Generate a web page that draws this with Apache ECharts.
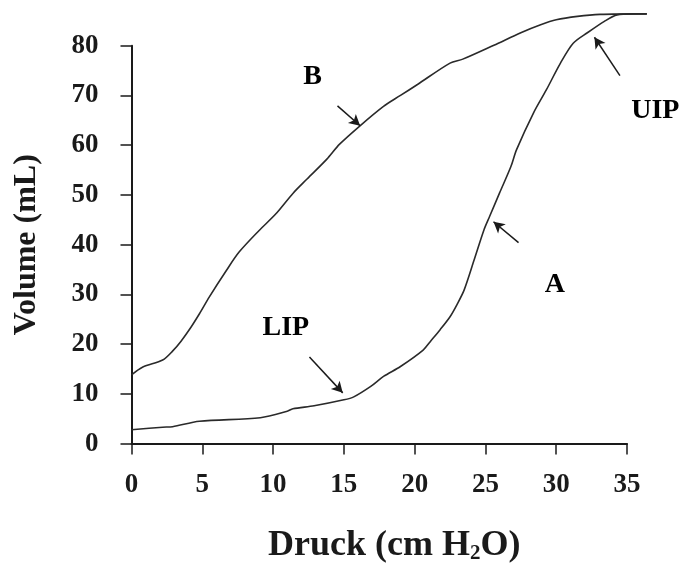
<!DOCTYPE html>
<html>
<head>
<meta charset="utf-8">
<script src="https://cdn.jsdelivr.net/npm/echarts@6/dist/echarts.min.js"></script>
<style>
  html, body { margin: 0; padding: 0; background: #fff; }
  #chart { width: 680px; height: 566px; }
</style>
</head>
<body>
<div id="chart"></div>
<script>
// pressure (cm H2O), volume (mL) pairs
var limbB = [
  [0, 13.8], [0.8, 15.4], [2.2, 16.8], [2.9, 18.6], [3.5, 20.6], [4.2, 23.4],
  [4.8, 26.1], [5.5, 29.5], [6.7, 34.8], [7.6, 38.5], [9.0, 42.8], [10.2, 46.2],
  [11.4, 50.3], [12.4, 53.2], [13.8, 57.2], [14.7, 60.2], [16.1, 63.8], [17.8, 67.8],
  [19.0, 70.0], [20.2, 72.2], [22.5, 76.5], [23.4, 77.3], [25.6, 80.1], [27.5, 82.6],
  [28.9, 84.2], [30.0, 85.2], [31.5, 85.9], [33.1, 86.3], [36.4, 86.4]
];
var limbA = [
  [0, 2.8], [2.2, 3.3], [2.9, 3.4], [4.8, 4.5], [9.1, 5.2], [11.0, 6.5],
  [11.4, 7.0], [12.9, 7.6], [15.0, 8.8], [15.7, 9.4], [16.9, 11.5], [17.8, 13.5],
  [19.0, 15.5], [20.6, 18.8], [21.1, 20.5], [21.8, 22.9], [22.5, 25.5], [23.0, 28.0],
  [23.5, 30.9], [24.2, 36.9], [24.9, 43.0], [25.3, 45.7], [26.0, 50.4], [26.8, 55.7],
  [27.2, 59.1], [28.4, 66.5], [29.3, 71.1], [30.3, 76.5], [31.2, 80.5], [32.2, 82.6],
  [33.4, 84.9], [34.3, 86.2], [35.4, 86.4], [36.4, 86.4]
];
var xTicks = [0, 5, 10, 15, 20, 25, 30, 35];
var yTicks = [0, 10, 20, 30, 40, 50, 60, 70, 80];

// text labels and arrows (tail -> head), in data units
var labelNames = ['B', 'LIP', 'A', 'UIP'];
var labelPos = [[12.8, 73.8], [10.9, 23.2], [29.9, 31.9], [37.0, 67.0]];
var arrows = [
  [[14.55, 67.9], [16.15, 63.9]],
  [[12.57, 17.4], [14.92, 10.2]],
  [[27.34, 40.4], [25.57, 44.6]],
  [[34.5, 74.0], [32.7, 81.7]]
];

var serif = 'Liberation Serif';
var ink = '#1a1a1a';

// the curves run past the drawn axes, so they sit on a second, hidden grid
// with the same scale that reaches a bit further
var gLeft = 131.5, gBottom = 122.4, gTop = 45.7, gRight = 53;
var xMax = 35, yMax = 80, xMaxData = 37, yMaxData = 88;
var pxX = (680 - gLeft - gRight) / xMax;
var pxY = (566 - gTop - gBottom) / yMax;

var chart = echarts.init(document.getElementById('chart'));

var labelData = labelNames.map(function (n, i) {
  return { name: n, value: labelPos[i] };
});
var arrowData = arrows.map(function (a) {
  return [{ coord: a[0] }, { coord: a[1] }];
});

chart.setOption({
  animation: false,
  backgroundColor: '#fff',
  grid: [
    { left: gLeft, right: gRight, top: gTop, bottom: gBottom, outerBoundsMode: 'none' },
    {
      left: gLeft,
      right: 680 - gLeft - xMaxData * pxX,
      top: gTop - (yMaxData - yMax) * pxY,
      bottom: gBottom,
      outerBoundsMode: 'none'
    }
  ],
  xAxis: [
    {
      type: 'value',
      gridIndex: 0,
      min: xTicks[0],
      max: xTicks[xTicks.length - 1],
      interval: 5,
      name: 'Druck (cm H{sub|2}O)',
      nameLocation: 'middle',
      nameGap: 84,
      nameTextStyle: {
        fontFamily: serif, fontWeight: 'bold', fontSize: 36, color: ink,
        padding: [0, 0, 0, 30],
        rich: {
          sub: { fontFamily: serif, fontWeight: 'bold', fontSize: 21, color: ink, verticalAlign: 'bottom' }
        }
      },
      axisLine: { onZero: false, lineStyle: { color: ink, width: 2 } },
      axisTick: { show: true, length: 11, lineStyle: { color: ink, width: 1.5 } },
      axisLabel: { margin: 28, fontFamily: serif, fontWeight: 'bold', fontSize: 27, color: ink },
      splitLine: { show: false }
    },
    {
      type: 'value', gridIndex: 1, min: 0, max: xMaxData, show: false
    }
  ],
  yAxis: [
    {
      type: 'value',
      gridIndex: 0,
      min: yTicks[0],
      max: yTicks[yTicks.length - 1],
      interval: 10,
      name: 'Volume (mL)',
      nameLocation: 'middle',
      nameGap: 89,
      nameTextStyle: { fontFamily: serif, fontWeight: 'bold', fontSize: 32, color: ink },
      axisLine: { show: true, onZero: false, lineStyle: { color: ink, width: 2 } },
      axisTick: { show: true, length: 11, lineStyle: { color: ink, width: 1.5 } },
      axisLabel: { margin: 33, fontFamily: serif, fontWeight: 'bold', fontSize: 27, color: ink },
      splitLine: { show: false }
    },
    {
      type: 'value', gridIndex: 1, min: 0, max: yMaxData, show: false
    }
  ],
  series: [
    {
      name: 'B', type: 'line', data: limbB, xAxisIndex: 1, yAxisIndex: 1,
      clip: false, showSymbol: false, smooth: 0.3,
      lineStyle: { color: '#2a2a2a', width: 1.6 }
    },
    {
      name: 'A', type: 'line', data: limbA, xAxisIndex: 1, yAxisIndex: 1,
      clip: false, showSymbol: false, smooth: 0.3,
      lineStyle: { color: '#2a2a2a', width: 1.6 },
      markLine: {
        silent: true,
        symbol: ['none', 'arrow'],
        symbolSize: [9, 11],
        label: { show: false },
        lineStyle: { color: ink, width: 1.5, type: 'solid', opacity: 1 },
        data: arrowData
      }
    },
    {
      type: 'scatter', data: labelData, xAxisIndex: 1, yAxisIndex: 1,
      clip: false, symbolSize: 0, silent: true,
      itemStyle: { opacity: 1, color: ink },
      label: {
        show: true, position: 'inside', formatter: '{b}', opacity: 1,
        fontFamily: serif, fontWeight: 'bold', fontSize: 28, color: '#000'
      }
    }
  ]
});
</script>
</body>
</html>
